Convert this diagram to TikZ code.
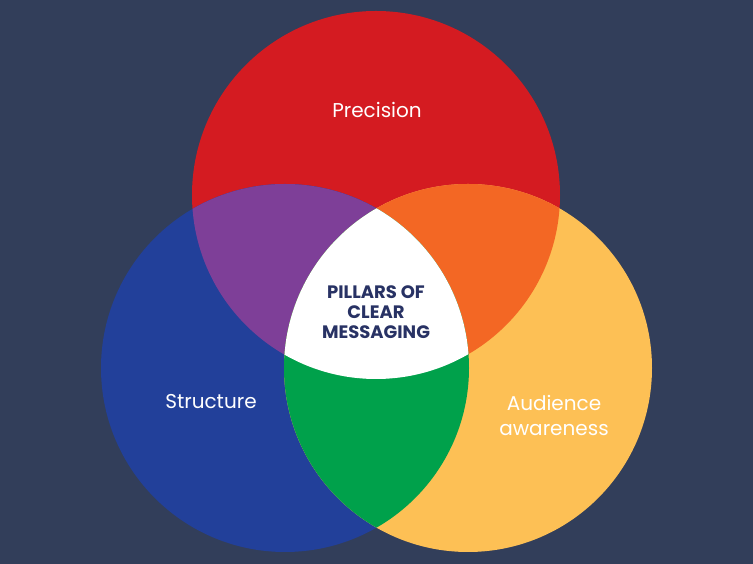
\documentclass[tikz,border=0pt]{standalone}
\usepackage{fontspec}
\setmainfont{Poppins}
\definecolor{bg}{RGB}{50,62,90}
\definecolor{cred}{RGB}{212,27,33}
\definecolor{cblue}{RGB}{34,64,154}
\definecolor{cyellow}{RGB}{253,192,85}
\definecolor{cpurple}{RGB}{126,63,152}
\definecolor{corange}{RGB}{243,103,36}
\definecolor{cgreen}{RGB}{0,161,75}
\definecolor{ctext}{RGB}{40,50,100}
\begin{document}
\begin{tikzpicture}[x=1pt,y=1pt,
  lbl/.style={text=white,font=\fontsize{20}{25}\selectfont,align=center},
  ctr/.style={text=ctext,font=\bfseries\fontsize{18}{20}\selectfont,align=center}]
\fill[bg] (0,0) rectangle (753,564);
\useasboundingbox (0,0) rectangle (753,564);
\def\R{184}
\coordinate (cr) at (376,369);
\coordinate (cb) at (285,196);
\coordinate (cy) at (468,196);
\fill[cred] (cr) circle (\R);
\fill[cblue] (cb) circle (\R);
\fill[cyellow] (cy) circle (\R);
\begin{scope}
  \clip (cr) circle (\R);
  \fill[cpurple] (cb) circle (\R);
  \fill[corange] (cy) circle (\R);
\end{scope}
\begin{scope}
  \clip (cb) circle (\R);
  \fill[cgreen] (cy) circle (\R);
  \clip (cy) circle (\R);
  \fill[white] (cr) circle (\R);
\end{scope}
\node[lbl] (precision) at (377,454) {Precision};
\node[lbl] (structure) at (211,162) {Structure};
\node[lbl] (audience) at (554,149) {Audience\\awareness};
\node[ctr] (center) at (376,252) {PILLARS OF\\CLEAR\\MESSAGING};
\end{tikzpicture}
\end{document}
